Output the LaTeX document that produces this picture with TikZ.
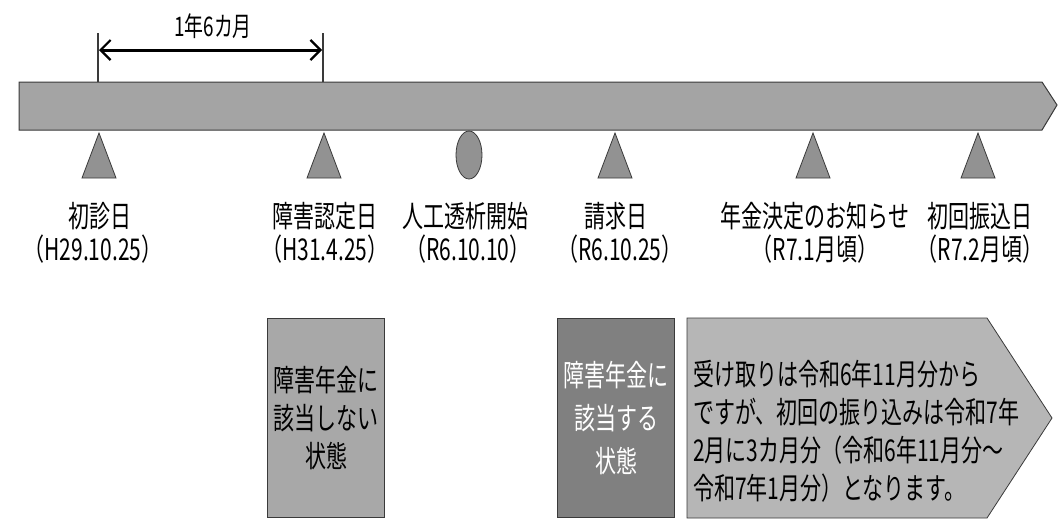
\documentclass[tikz,border=0pt]{standalone}
\usepackage{fontspec}
\setmainfont{Noto Sans CJK JP}[FakeStretch=0.7]
\usetikzlibrary{arrows.meta}
\definecolor{barfill}{HTML}{A4A4A4}
\definecolor{trifill}{HTML}{929292}
\definecolor{boxa}{HTML}{A8A8A8}
\definecolor{boxb}{HTML}{808080}
\definecolor{boxc}{HTML}{B6B6B6}
\definecolor{edge}{HTML}{3A3A3A}
\begin{document}
\begin{tikzpicture}[x=1pt,y=-1pt,
  lbl/.style={font=\fontsize{30}{32}\selectfont, inner sep=0pt, text=black},
  marker/.style={fill=trifill, draw=edge, line width=0.8pt},
  tick/.style={draw=edge, line width=2.4pt},
  span/.style={line width=3pt, {Straight Barb[length=10pt,width=20pt,line width=2.2pt]}-{Straight Barb[length=10pt,width=20pt,line width=2.2pt]}},
  statebox/.style={draw=edge, line width=0.8pt, minimum width=117pt, minimum height=199pt, inner sep=0pt, align=center},
]
\useasboundingbox (0,0) rectangle (1064,520);

% timeline bar
\draw[fill=barfill, draw=edge, line width=1pt] (19,82) -- (1042,82) -- (1057,105) -- (1042,130) -- (19,130) -- cycle;

% tick lines and span arrow
\coordinate (t1top) at (98,33);
\coordinate (t1bot) at (98,82);
\coordinate (t2top) at (323,33);
\coordinate (t2bot) at (323,82);
\draw[tick] (t1top) -- (t1bot);
\draw[tick] (t2top) -- (t2bot);
\coordinate (s1) at (99,50);
\coordinate (s2) at (322,50);
\draw[span] (s1) -- (s2);
\node[lbl, font=\fontsize{27}{28}\selectfont] (spanlbl) at (213,26) {1年6カ月};

% markers
\draw[marker] (99,133) -- (116,178) -- (82,178) -- cycle;
\draw[marker] (324,133) -- (341,178) -- (307,178) -- cycle;
\draw[marker] (469,155) ellipse [x radius=13, y radius=24];
\draw[marker] (615,133) -- (632,178) -- (598,178) -- cycle;
\draw[marker] (813,133) -- (830,178) -- (796,178) -- cycle;
\draw[marker] (978,133) -- (995,178) -- (961,178) -- cycle;

% labels row 1
\node[lbl] (l1) at (100,216) {初診日};
\node[lbl] (l2) at (325,216) {障害認定日};
\node[lbl] (l3) at (465,216) {人工透析開始};
\node[lbl] (l4) at (616,216) {請求日};
\node[lbl] (l5) at (815,216) {年金決定のお知らせ};
\node[lbl] (l6) at (980,216) {初回振込日};
% labels row 2
\node[lbl] (d1) at (93,249) {（H29.10.25）};
\node[lbl] (d2) at (325,249) {（H31.4.25）};
\node[lbl] (d3) at (468,249) {（R6.10.10）};
\node[lbl] (d4) at (620,249) {（R6.10.25）};
\node[lbl] (d5) at (815,249) {（R7.1月頃）};
\node[lbl] (d6) at (980,249) {（R7.2月頃）};

% state boxes
\node[statebox, fill=boxa, font=\fontsize{30}{38}\selectfont] (b1) at (326,418) {障害年金に\\該当しない\\状態};
\node[statebox, fill=boxb, text=white, font=\fontsize{30}{43}\selectfont] (b2) at (616,418) {障害年金に\\該当する\\状態};

% payment arrow box
\draw[fill=boxc, draw=edge, line width=0.8pt] (687,318) -- (987,318) -- (1052,418) -- (987,518) -- (687,518) -- cycle;
\node[lbl, font=\fontsize{30}{38}\selectfont, align=left, anchor=west] (b3) at (693,431) {受け取りは令和6年11月分から\\ですが、初回の振り込みは令和7年\\2月に3カ月分（令和6年11月分～\\令和7年1月分）となります。};
\end{tikzpicture}
\end{document}
